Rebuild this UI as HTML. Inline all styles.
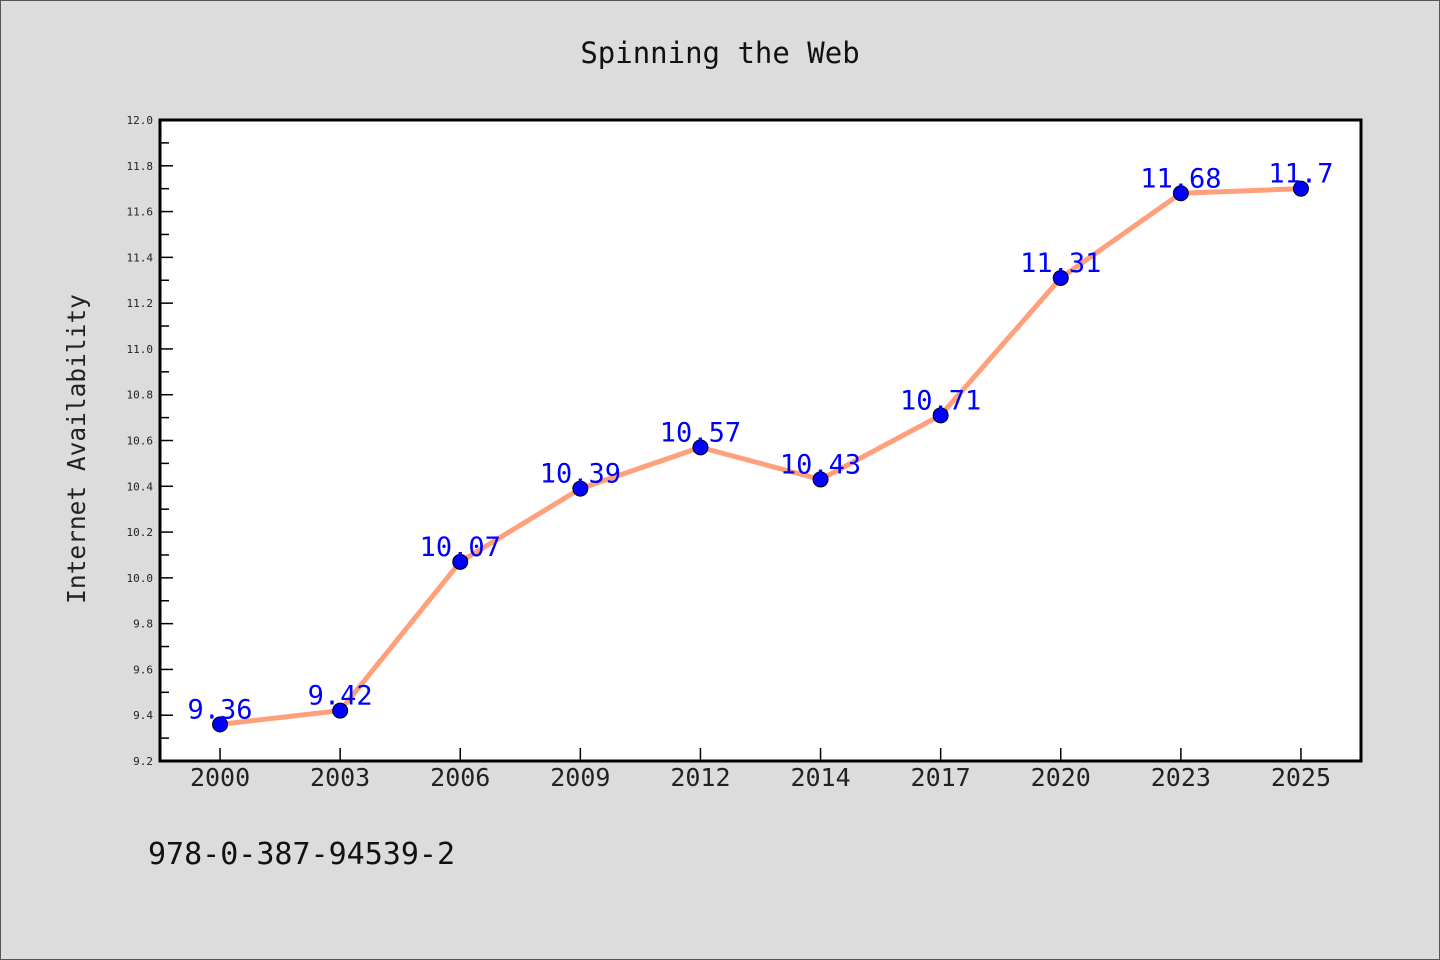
<!DOCTYPE html>
<html><head><meta charset="utf-8"><style>
html,body{margin:0;padding:0;background:#dcdcdc;width:1440px;height:960px;overflow:hidden;}
svg{display:block;}
svg text{font-family:"DejaVu Sans Mono","Liberation Mono",monospace;}
</style></head><body>
<svg id="chart" width="1440" height="960" xmlns="http://www.w3.org/2000/svg">
<rect x="0.5" y="0.5" width="1439" height="959" fill="#dcdcdc" stroke="#555" stroke-width="1"/>
<text x="720" y="63" font-size="29" text-anchor="middle" fill="#111">Spinning the Web</text>
<rect x="160" y="120" width="1201" height="641" fill="#fff"/>
<g id="axes"></g>
<g id="series"></g>
<rect x="160" y="120" width="1201" height="641" fill="none" stroke="#000" stroke-width="3"/>
<text transform="translate(85,449) rotate(-90)" font-size="24.5" text-anchor="middle" fill="#222">Internet Availability</text>
<text x="148" y="864" font-size="30" fill="#111">978-0-387-94539-2</text>
</svg>
<script>
const categories = ["2000","2003","2006","2009","2012","2014","2017","2020","2023","2025"];
const values = [9.36,9.42,10.07,10.39,10.57,10.43,10.71,11.31,11.68,11.7];
const valueLabels = ["9.36","9.42","10.07","10.39","10.57","10.43","10.71","11.31","11.68","11.7"];
const yTicks = ["9.2","9.4","9.6","9.8","10.0","10.2","10.4","10.6","10.8","11.0","11.2","11.4","11.6","11.8","12.0"];
const NS="http://www.w3.org/2000/svg";
const L=160,R=1361,T=120,B=761,yMin=9.2,yMax=12.0;
const band=(R-L)/categories.length;
const xs=i=>L+band*(i+0.5);
const ys=v=>B-(v-yMin)/(yMax-yMin)*(B-T);
function mk(tag,attrs,parent){const e=document.createElementNS(NS,tag);for(const k in attrs)e.setAttribute(k,attrs[k]);parent.appendChild(e);return e;}
const ax=document.getElementById('axes'), se=document.getElementById('series');
yTicks.forEach((t,i)=>{
  const v=parseFloat(t), y=ys(v);
  const tk=mk('line',{x1:L,x2:L+13,y1:y,y2:y,stroke:'#000','stroke-width':1.5},ax);
  
  
  const tx=mk('text',{x:L-7,y:y+4,'font-size':11,'text-anchor':'end',fill:'#222'},ax);
  
  
  tx.textContent=t;
  if(i<yTicks.length-1){
    const ym=ys(v+0.1);
    const mn=mk('line',{x1:L,x2:L+9,y1:ym,y2:ym,stroke:'#000','stroke-width':1.5},ax);
    
    
  }
});
categories.forEach((c,i)=>{
  const x=xs(i);
  const tk=mk('line',{x1:x,x2:x,y1:B,y2:B-13,stroke:'#000','stroke-width':1.5},ax);
  
  
  const tx=mk('text',{x:x,y:B+25,'font-size':25,'text-anchor':'middle',fill:'#222'},ax);
  
  
  tx.textContent=c;
});
const line=mk('polyline',{points:values.map((v,i)=>xs(i)+','+ys(v)).join(' '),fill:'none',stroke:'#ffa07a','stroke-width':5,'stroke-linejoin':'round'},se);


values.forEach((v,i)=>{
  const c=mk('circle',{cx:xs(i),cy:ys(v),r:7.5,fill:'#0000ff',stroke:'#000','stroke-width':1},se);
  
  
  const t=mk('text',{x:xs(i),y:ys(v)-6,'font-size':27,'text-anchor':'middle',fill:'#0000ff'},se);
  
  
  t.textContent=valueLabels[i];
});
</script>
</body></html>
